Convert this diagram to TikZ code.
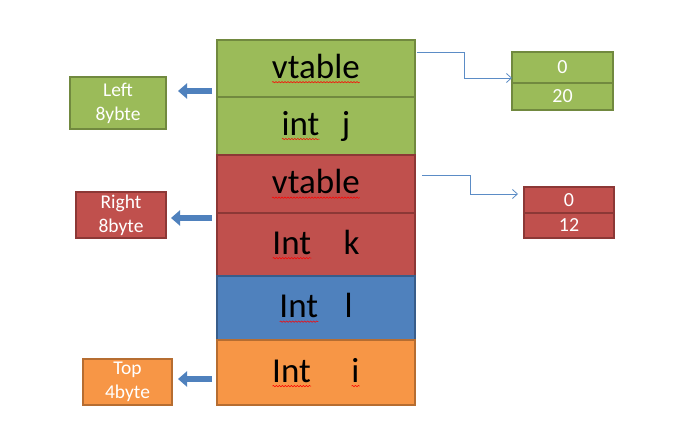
\documentclass[tikz,border=0pt]{standalone}
\usepackage{fontspec}
\setmainfont{Carlito}
\usetikzlibrary{positioning,arrows.meta,decorations.pathmorphing}
\definecolor{cgreen}{HTML}{9BBB59}
\definecolor{dgreen}{HTML}{71893F}
\definecolor{cred}{HTML}{C0504D}
\definecolor{dred}{HTML}{8C3836}
\definecolor{cblue}{HTML}{4F81BD}
\definecolor{dblue}{HTML}{385D8A}
\definecolor{corange}{HTML}{F79646}
\definecolor{dorange}{HTML}{B66D31}
\definecolor{lineblue}{HTML}{5B8CC6}
\newcommand{\spell}[1]{\leavevmode\setbox0=\hbox{#1}\rlap{\copy0}\tikz[baseline=0pt,x=1pt,y=1pt]\draw[red,line width=0.5pt,decorate,decoration={snake,amplitude=0.7pt,segment length=3pt}] (0pt,-4pt) -- (\the\wd0,-4pt);}
\tikzset{cell/.style={rectangle,draw,line width=1.2pt,minimum width=198pt,inner sep=0pt,outer sep=0pt,font=\fontsize{35}{40}\selectfont}}
\tikzset{tag/.style={rectangle,draw,line width=1.2pt,inner sep=0pt,outer sep=0pt,text=white,align=center,font=\fontsize{19.5}{24}\selectfont}}
\tikzset{slot/.style={rectangle,draw,line width=1.2pt,inner sep=0pt,outer sep=0pt,text=white,font=\fontsize{20}{22}\selectfont}}
\tikzset{fat/.style={draw=cblue,line width=6pt,-{Triangle[length=9pt,width=15pt]}}}
\tikzset{ptr/.style={draw=lineblue,line width=0.8pt,-{Straight Barb[length=5pt,width=9pt]}}}

\begin{document}
\begin{tikzpicture}[x=1pt,y=-1pt,node distance=0pt]

\useasboundingbox[fill=white] (0,0) rectangle (689,447);

\node[cell,fill=cgreen,draw=dgreen,minimum height=57pt,anchor=north] (vtA) at (316,40) {\spell{vtable}};
\node[cell,fill=cgreen,draw=dgreen,minimum height=58pt] [below=of vtA] (jRow) {\spell{int}\hspace{22pt}j};
\node[cell,fill=cred,draw=dred,minimum height=58pt] [below=of jRow] (vtB) {\spell{vtable}};
\node[cell,fill=cred,draw=dred,minimum height=63pt] [below=of vtB] (kRow) {\spell{Int}\hspace{32pt}k};
\node[cell,fill=cblue,draw=dblue,minimum height=64pt] [below=of kRow] (lRow) {\spell{Int}\hspace{26pt}l};
\node[cell,fill=corange,draw=dorange,minimum height=65pt] [below=of lRow] (iRow) {\spell{Int}\hspace{40pt}\spell{i}};

\node[tag,fill=cgreen,draw=dgreen,minimum width=96pt,minimum height=52pt] (left) at (118,103) {Left\\8ybte};
\node[tag,fill=cred,draw=dred,minimum width=90pt,minimum height=46pt] (right) at (121,215) {Right\\8byte};
\node[tag,fill=corange,draw=dorange,minimum width=89pt,minimum height=46pt] (top) at (127.5,382) {Top\\4byte};

\node[slot,fill=cgreen,draw=dgreen,minimum width=101pt,minimum height=31pt,anchor=north] (g0) at (562.5,52) {0};
\node[slot,fill=cgreen,draw=dgreen,minimum width=101pt,minimum height=27pt] [below=of g0] (g20) {20};
\node[slot,fill=cred,draw=dred,minimum width=90pt,minimum height=26pt,anchor=north] (r0) at (569,187) {0};
\node[slot,fill=cred,draw=dred,minimum width=90pt,minimum height=25pt] [below=of r0] (r12) {12};

\draw[fat] ([xshift=-5pt,yshift=-22.5pt]vtA.west) -- ([xshift=12pt,yshift=12pt]left.east);
\draw[fat] ([xshift=-5pt,yshift=26.5pt]kRow.west) -- ([xshift=5pt,yshift=-3pt]right.east);
\draw[fat] ([xshift=-5pt,yshift=-6.5pt]iRow.west) -- ([xshift=6pt,yshift=3pt]top.east);

\draw[ptr] ([xshift=2pt,yshift=16.5pt]vtA.east) -- ++(47,0) |- ([yshift=-10.5pt]g0.west);
\draw[ptr] ([xshift=7pt,yshift=9pt]vtB.east) -- ++(48,0) |- ([xshift=-6pt,yshift=6pt]r0.west);

\end{tikzpicture}
\end{document}
